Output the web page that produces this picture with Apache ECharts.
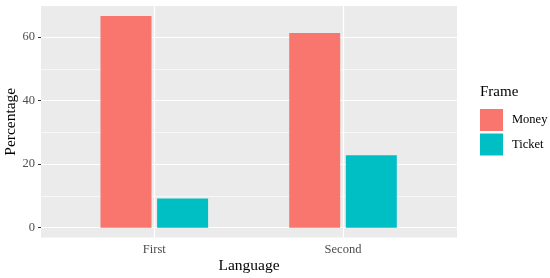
<!DOCTYPE html>
<html>
<head>
<meta charset="utf-8">
<script src="https://cdn.jsdelivr.net/npm/echarts@6/dist/echarts.min.js"></script>
<style>
  html, body { margin: 0; padding: 0; background: #fff; }
  #chart { width: 550px; height: 278px; }
</style>
</head>
<body>
<div id="chart"></div>
<script>
  // data
  const categories = ['First', 'Second'];
  const seriesNames = ['Money', 'Ticket'];
  const money = [66.7, 61.3];
  const ticket = [9.2, 22.8];
  const panelRange = [-3.33, 70]; // ggplot's expanded y range

  const serif = 'Liberation Serif';
  const colors = ['#F8766D', '#00BFC4'];

  const chart = echarts.init(document.getElementById('chart'));

  const hiddenAxis = {
    axisLine: { show: false },
    axisTick: { show: false },
    axisLabel: { show: false },
    splitLine: { show: false }
  };

  const option = {
    animation: false,
    title: {
      text: 'Frame',
      left: 480,
      top: 85,
      padding: 0,
      textStyle: { fontFamily: serif, fontSize: 15, fontWeight: 'normal', color: '#000' }
    },
    legend: {
      data: seriesNames,
      orient: 'vertical',
      left: 480,
      top: 109,
      padding: 0,
      icon: 'rect',
      itemWidth: 23,
      itemHeight: 22,
      itemGap: 2.5,
      textStyle: { fontFamily: serif, fontSize: 12.5, color: '#000', padding: [0, 0, 0, 4] }
    },
    grid: [
      // 0: gridlines + y labels, full panel width
      { left: 41, width: 416, top: -26.3, bottom: -13.2, outerBoundsMode: 'none' },
      // 1: bars, sized so band centres sit where ggplot puts them
      { left: 59.95, width: 377.4, top: -26.3, bottom: -13.2, outerBoundsMode: 'none' },
      // 2: grey panel background + axis titles
      { left: 41, width: 416, top: 6, height: 231.5, show: true,
        backgroundColor: '#EBEBEB', borderWidth: 0, outerBoundsMode: 'none' }
    ],
    xAxis: [
      { gridIndex: 0, type: 'value', show: false },
      {
        gridIndex: 1,
        type: 'category',
        data: categories,
        offset: -53.7,
        axisLine: { show: false },
        axisTick: { show: true, alignWithLabel: true, length: 3, lineStyle: { color: '#333' } },
        axisLabel: { fontFamily: serif, fontSize: 12.5, color: '#4D4D4D', margin: 6 },
        splitLine: { show: false }
      },
      Object.assign({
        gridIndex: 2,
        type: 'value',
        name: 'Language',
        nameLocation: 'middle',
        nameGap: 20,
        nameTextStyle: { fontFamily: serif, fontSize: 15.5, color: '#000' }
      }, hiddenAxis)
    ],
    yAxis: [
      {
        gridIndex: 0,
        type: 'value',
        min: -20,
        max: 80,
        interval: 20,
        axisLine: { show: false },
        axisTick: { show: true, length: 3, lineStyle: { color: '#333' } },
        axisLabel: { fontFamily: serif, fontSize: 12.5, color: '#4D4D4D', margin: 6 },
        splitLine: { show: true, lineStyle: { color: '#fff', width: 1.2 } },
        minorTick: { show: false, splitNumber: 2 },
        minorSplitLine: { show: true, lineStyle: { color: '#fff', width: 0.6 } }
      },
      { gridIndex: 1, type: 'value', min: -20, max: 80, interval: 20, show: false },
      Object.assign({
        gridIndex: 2,
        type: 'value',
        name: 'Percentage',
        nameLocation: 'middle',
        nameGap: 22,
        nameTextStyle: { fontFamily: serif, fontSize: 15.5, color: '#000' }
      }, hiddenAxis)
    ],
    series: [
      {
        name: seriesNames[0],
        type: 'bar',
        xAxisIndex: 1,
        yAxisIndex: 1,
        barWidth: 51,
        barGap: '11%',
        itemStyle: { color: colors[0] },
        data: money,
        z: 2
      },
      {
        name: seriesNames[1],
        type: 'bar',
        xAxisIndex: 1,
        yAxisIndex: 1,
        barWidth: 51,
        barGap: '11%',
        itemStyle: { color: colors[1] },
        data: ticket,
        z: 2
      },
      {
        // vertical major gridlines at category centres
        type: 'line',
        xAxisIndex: 1,
        yAxisIndex: 1,
        data: [],
        z: 1,
        silent: true,
        markLine: {
          silent: true,
          symbol: 'none',
          label: { show: false },
          lineStyle: { color: '#fff', width: 1.2, type: 'solid' },
          data: categories.map(c => [{ coord: [c, panelRange[0]] }, { coord: [c, panelRange[1]] }])
        }
      }
    ]
  };

  chart.setOption(option);
</script>
</body>
</html>
